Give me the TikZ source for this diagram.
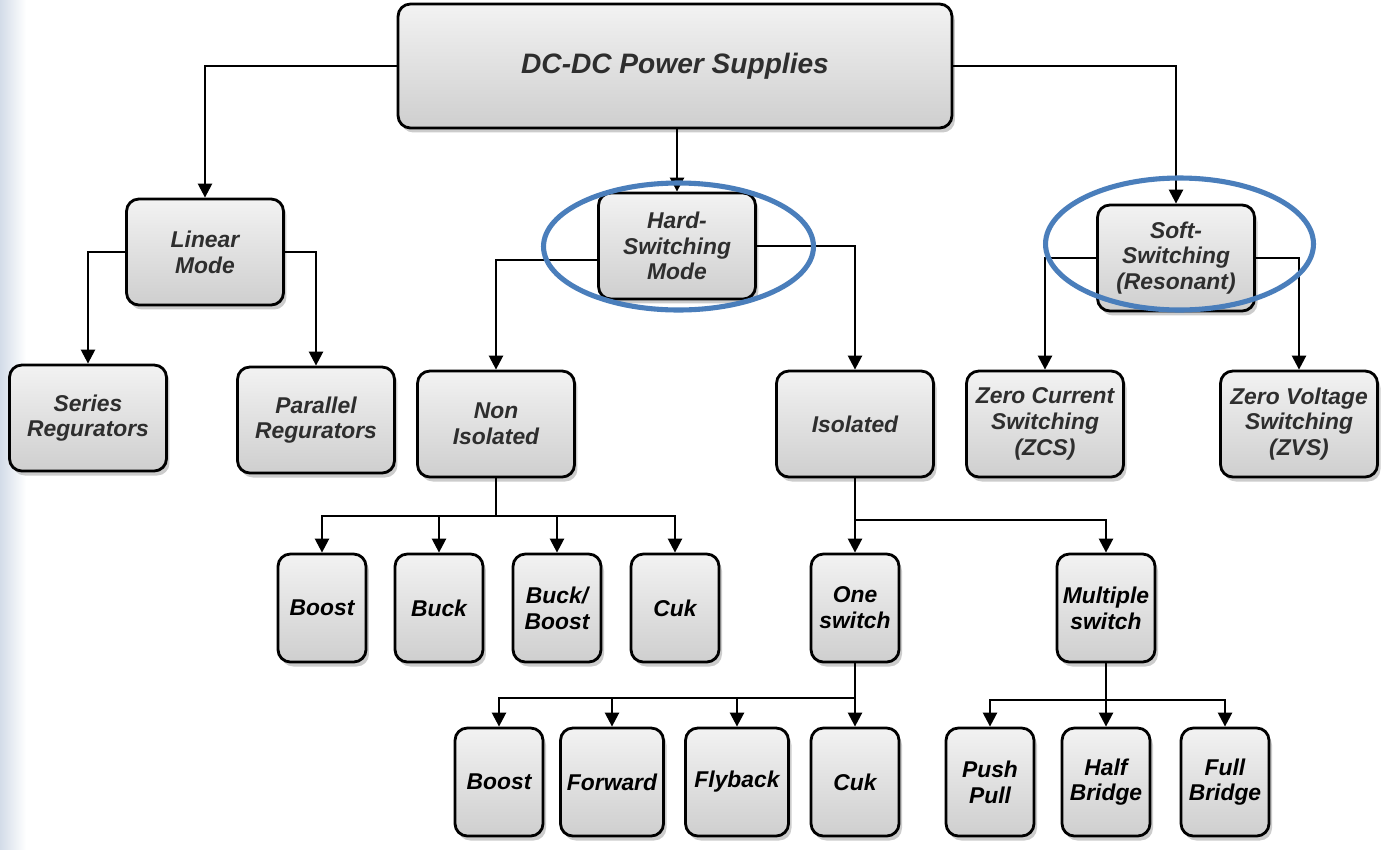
\documentclass[tikz,border=0pt]{standalone}
\usepackage{fontspec}
\setmainfont{Liberation Sans}
\usetikzlibrary{arrows.meta,shadows,positioning}
\definecolor{ringblue}{HTML}{4A7EBB}
\definecolor{edgeblue}{HTML}{D3DCE8}

\begin{document}
\begin{tikzpicture}[x=0.02cm,y=-0.02cm,
				box/.style={draw=black, line width=1.6pt, rounded corners=7pt,
					top color=gray!10, bottom color=gray!38,
					drop shadow={shadow xshift=0.06cm,shadow yshift=-0.09cm,opacity=0.4},
					align=center, text=black!82, inner sep=2pt,
					font=\bfseries\itshape\fontsize{13}{14.7}\selectfont,
					minimum width=3.14cm, minimum height=2.12cm},
				leaf/.style={box, text=black, minimum width=1.76cm, minimum height=2.16cm},
				link/.style={line width=1.4pt},
				arr/.style={link, -{Triangle[length=8pt,width=8pt]}},
				ring/.style={draw=ringblue, line width=2.9pt}]
			\useasboundingbox (0,0) rectangle (1381,849);
			\fill [white] (0,0) rectangle (1381,849);
			\shade [left color=edgeblue, right color=white] (0,0) rectangle (26,849);
			% top and second level
			\node [box, minimum width=11.08cm, minimum height=2.48cm,
				font=\bfseries\itshape\fontsize{16}{19}\selectfont] (dcdc) at (675,66) {DC-DC Power Supplies};
			\node [box] (linear) at (205,252) {Linear\\Mode};
			\node [box] (hard) at (677,246) {Hard-\\Switching\\Mode};
			\node [box] (soft) at (1176,258) {Soft-\\Switching\\(Resonant)};
			% third level
			\node [box] (series) at (88,418) {Series\\Regurators};
			\node [box] (parallel) at (316,420) {Parallel\\Regurators};
			\node [box] (noniso) at (496,424) {Non\\Isolated};
			\node [box] (iso) at (855,424) {Isolated};
			\node [box] (zcs) at (1045,424) {Zero Current\\Switching\\(ZCS)};
			\node [box] (zvs) at (1299,424) {Zero Voltage\\Switching\\(ZVS)};
			% fourth level
			\node [leaf] (boostA) at (322,608) {Boost};
			\node [leaf] (buck) at (439,608) {Buck};
			\node [leaf] (buckboost) at (557,608) {Buck/\\Boost};
			\node [leaf] (cukA) at (675,608) {Cuk};
			\node [leaf] (one) at (855,608) {One\\switch};
			\node [leaf, minimum width=1.96cm] (multi) at (1106,608) {Multiple\\switch};
			% fifth level
			\node [leaf] (boostB) at (499,782) {Boost};
			\node [leaf, minimum width=2.06cm] (forward) at (612,782) {Forward};
			\node [leaf, minimum width=2.06cm] (flyback) at (737,782) {Flyback};
			\node [leaf] (cukB) at (855,782) {Cuk};
			\node [leaf] (push) at (990,782) {Push\\Pull};
			\node [leaf] (half) at (1106,782) {Half\\Bridge};
			\node [leaf] (full) at (1225,782) {Full\\Bridge};
			% connectors
			\draw [arr] (dcdc.west) -| (linear.north);
			\draw [arr] (hard.north |- dcdc.south) -- (hard.north);
			\draw [arr] (dcdc.east) -| (soft.north);
			\draw [arr] (linear.west) -| (series.north);
			\draw [arr] (linear.east) -| (parallel.north);
			\draw [arr] ([yshift=-0.28cm]hard.west) -| (noniso.north);
			\draw [arr] (hard.east) -| (iso.north);
			\draw [arr] (soft.west) -| (zcs.north);
			\draw [arr] (soft.east) -| (zvs.north);
			\coordinate (nibus) at (496,516);
			\draw [link] (noniso.south) -- (nibus);
			\foreach \n in {boostA,buck,buckboost,cukA}
				\draw [arr] (nibus) -| (\n.north);
			\coordinate (isobus) at (855,520);
			\draw [link] (iso.south) -- (isobus);
			\foreach \n in {one,multi}
				\draw [arr] (isobus) -| (\n.north);
			\coordinate (onebus) at (855,698);
			\draw [link] (one.south) -- (onebus);
			\foreach \n in {boostB,forward,flyback,cukB}
				\draw [arr] (onebus) -| (\n.north);
			\coordinate (multibus) at (1106,700);
			\draw [link] (multi.south) -- (multibus);
			\foreach \n in {push,half,full}
				\draw [arr] (multibus) -| (\n.north);
			% highlight rings
			\draw [ring] (678.5,246.5) ellipse [x radius=2.7cm, y radius=1.27cm];
			\draw [ring] (1179.5,244) ellipse [x radius=2.68cm, y radius=1.32cm];
		\end{tikzpicture}
\end{document}
